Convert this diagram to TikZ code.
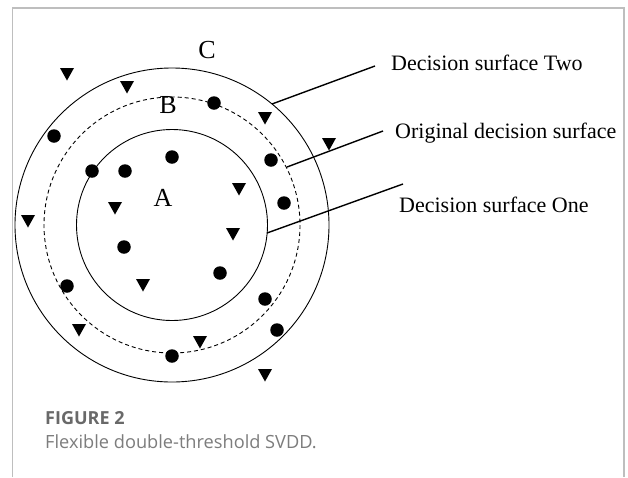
\documentclass[tikz,border=0pt]{standalone}
\usepackage{fontspec}
\setmainfont{Liberation Serif}
\newfontfamily\capfont{Open Sans}
\definecolor{framec}{RGB}{190,190,190}
\definecolor{capgray}{RGB}{105,105,105}
\definecolor{captext}{RGB}{125,125,125}
\tikzset{
  dot/.style={circle,fill=black,inner sep=0pt,minimum size=13.5pt},
  tri/.pic={\fill[black] (-7,-6) -- (7,-6) -- (0,6.5) -- cycle;},
  ring/.style={draw=black,line width=0.9pt},
  lead/.style={draw=black,line width=1.4pt},
  lbl/.style={font=\fontsize{22}{26}\selectfont,anchor=west,inner sep=0pt},
  zone/.style={font=\fontsize{26}{30}\selectfont,inner sep=0pt}
}
\begin{document}
\begin{tikzpicture}[x=1pt,y=-1pt]
\useasboundingbox (0,0) rectangle (628,477);
\fill[white] (0,0) rectangle (628,477);
\draw[framec,line width=1.5pt] (12.5,477) -- (12.5,8) -- (624,8) -- (624,477);
% circles
\coordinate (O) at (172,225);
\draw[ring] (O) circle[radius=157];
\draw[ring,dashed,dash pattern=on 4pt off 3pt] (O) circle[radius=128];
\draw[ring] (O) circle[radius=95.5];
% zone labels
\node[zone] (C) at (207,50) {C};
\node[zone] (B) at (168,105) {B};
\node[zone] (A) at (163,198) {A};
% surface labels
\node[lbl] (two) at (391,63) {Decision surface Two};
\node[lbl] (orig) at (395,133) {Original decision surface};
\node[lbl] (one) at (399,205) {Decision surface One};
\coordinate (s2) at (272,104);
\coordinate (e2) at (375,66);
\coordinate (so) at (287,167);
\coordinate (eo) at (383,131);
\coordinate (s1) at (267,233);
\coordinate (e1) at (403,184);
\draw[lead] (s2) -- (e2);
\draw[lead] (so) -- (eo);
\draw[lead] (s1) -- (e1);
% dots
\node[dot] (d1) at (214,103) {};
\node[dot] (d2) at (54,136) {};
\node[dot] (d3) at (92,171) {};
\node[dot] (d4) at (125,171) {};
\node[dot] (d5) at (172,157) {};
\node[dot] (d6) at (271,160) {};
\node[dot] (d7) at (284,203) {};
\node[dot] (d8) at (124,247) {};
\node[dot] (d9) at (220,273) {};
\node[dot] (d10) at (67,286) {};
\node[dot] (d11) at (265,299) {};
\node[dot] (d12) at (277,330) {};
\node[dot] (d13) at (172,356) {};
% triangles
\pic (t1) at (67,74) {tri};
\pic (t2) at (127,87) {tri};
\pic (t3) at (265,118) {tri};
\pic (t4) at (329,144) {tri};
\pic (t5) at (239,189) {tri};
\pic (t6) at (115,208) {tri};
\pic (t7) at (28,221) {tri};
\pic (t8) at (233,234) {tri};
\pic (t9) at (143,285) {tri};
\pic (t10) at (79,330) {tri};
\pic (t11) at (200,342) {tri};
\pic (t12) at (265,375) {tri};
% caption
\node[anchor=west,inner sep=0pt,text=capgray,font=\capfont\bfseries\fontsize{18}{21}\selectfont] (fig) at (45,418) {FIGURE 2};
\node[anchor=west,inner sep=0pt,text=captext,font=\capfont\fontsize{18.2}{21}\selectfont] (cap) at (45,442) {Flexible double-threshold SVDD.};
\end{tikzpicture}
\end{document}
